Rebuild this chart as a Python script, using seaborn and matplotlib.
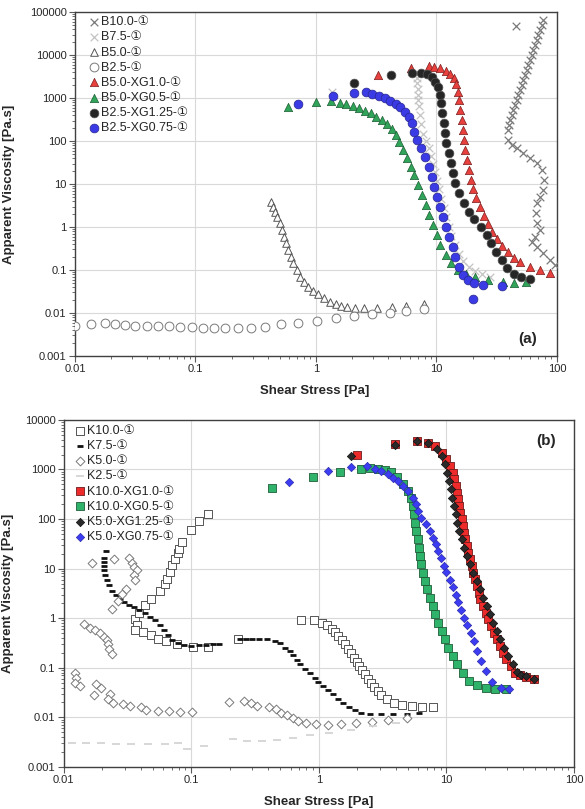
import seaborn as sns
import matplotlib.pyplot as plt
from matplotlib.ticker import FixedLocator, LogLocator, NullFormatter

# ---------------- panel (a): B-series ----------------
b100_x = [45.7, 77.1, 74.6, 72.3, 70.0, 67.8, 65.6, 63.6, 61.7, 59.7, 57.8, 56.1, 54.2, 52.5, 50.9,
          49.3, 47.8, 46.3, 44.8, 43.4, 42.1, 40.7, 40.0, 39.4, 39.4, 42.1, 46.3, 52.5, 59.7, 67.8,
          74.6, 78.0, 77.1, 72.3, 67.8, 67.0, 68.7, 72.3, 65.6, 61.7, 67.8, 77.1, 87.5, 96.2]
b100_y = [47200, 65200, 49900, 38100, 29200, 22400, 17100, 13100, 10000, 7650, 5850, 4480, 3430, 2620, 2000,
          1530, 1170, 898, 687, 526, 403, 308, 236, 180, 105, 80.7, 67.5, 51.6, 39.6, 30.3,
          21.2, 12.4, 7.25, 5.07, 3.55, 2.08, 1.22, 0.85, 0.595, 0.455, 0.348, 0.244, 0.171, 0.131]

b75_x = [1.35, 6.8, 6.85, 6.9, 7.0, 7.05, 7.1, 7.2, 7.3, 7.5, 7.8, 8.2, 8.6, 9.0, 9.4,
         9.8, 10.2, 10.6, 11.0, 11.5, 12.0, 12.6, 13.3, 14.2, 15.3, 16.7, 18.5, 21.0, 24.0, 28.0]
b75_y = [1400, 3800, 2900, 2200, 1600, 1200, 900, 650, 400, 250, 150, 100, 70, 45, 30,
         19, 12, 7.5, 4.5, 2.8, 1.7, 1.0, 0.62, 0.38, 0.24, 0.16, 0.12, 0.095, 0.08, 0.07]

b50_x = [0.421, 0.437, 0.457, 0.478, 0.502, 0.522, 0.543, 0.563, 0.589, 0.616, 0.649, 0.692, 0.737, 0.795,
         0.863, 0.950, 1.05, 1.16, 1.31, 1.47, 1.63, 1.82, 2.11, 2.52, 3.19, 4.25, 5.60, 7.83]
b50_y = [3.88, 2.97, 2.27, 1.74, 1.22, 0.851, 0.595, 0.418, 0.292, 0.204, 0.143, 0.100, 0.070, 0.0535,
         0.0409, 0.0330, 0.0272, 0.0220, 0.0183, 0.0162, 0.0146, 0.0136, 0.0129, 0.0129, 0.0129, 0.0136, 0.0148, 0.0162]

b25_x = [0.0100, 0.0136, 0.0177, 0.0216, 0.0262, 0.0318, 0.0395, 0.0489, 0.0606, 0.0751, 0.0930, 0.115, 0.143,
         0.177, 0.224, 0.288, 0.378, 0.518, 0.715, 1.02, 1.46, 2.09, 2.90, 4.09, 5.60, 7.83]
b25_y = [0.00507, 0.00545, 0.00575, 0.00565, 0.00526, 0.00507, 0.00490, 0.00490, 0.00490, 0.00472, 0.00472,
         0.00456, 0.00440, 0.00440, 0.00440, 0.00456, 0.00472, 0.00545, 0.00585, 0.00640, 0.00750, 0.00850,
         0.00950, 0.0102, 0.0111, 0.0122]

b50xg10_x = [3.30, 6.19, 8.61, 9.58, 10.7, 11.9, 12.9, 13.9, 14.6, 15.1, 15.5, 15.8, 16.2, 16.5, 16.9, 17.4, 17.8,
             18.5, 19.3, 20.3, 21.5, 22.9, 24.6, 26.6, 29.0, 31.8, 35.2, 39.2, 44.0, 49.6, 59.3, 71.9, 87.9]
b50xg10_y = [3430, 4900, 5650, 5350, 4900, 4320, 3610, 2860, 2120, 1400, 898, 526, 308, 180, 105, 61.8, 36.1,
             21.2, 12.4, 7.52, 4.64, 2.87, 1.80, 1.17, 0.779, 0.526, 0.362, 0.258, 0.194, 0.151, 0.120, 0.100, 0.0867]

b50xg05_x = [0.589, 1.01, 1.34, 1.57, 1.79, 2.03, 2.29, 2.55, 2.84, 3.16, 3.52, 3.92, 4.27, 4.59, 4.93, 5.29, 5.69,
             6.11, 6.56, 7.05, 7.56, 8.13, 8.73, 9.37, 10.1, 10.8, 11.9, 13.2, 15.0, 17.6, 21.0, 27.0, 36.0, 44.0, 55.3]
b50xg05_y = [629, 822, 867, 778, 725, 651, 575, 508, 440, 368, 308, 249, 187, 138, 96.4, 61.8, 39.6,
             25.3, 16.2, 9.48, 5.55, 3.25, 1.90, 1.11, 0.652, 0.381, 0.223, 0.143, 0.100, 0.0807, 0.070, 0.0585,
             0.0535, 0.0507, 0.0535]

b25xg125_x = [2.09, 4.21, 6.24, 7.46, 8.30, 9.12, 9.79, 10.4, 10.7, 11.0, 11.2, 11.5, 11.8, 12.1, 12.6, 13.1,
              13.7, 14.4, 15.5, 16.9, 18.6, 20.7, 23.4, 26.1, 28.6, 31.2, 34.7, 38.6, 44.0, 50.7, 59.3]
b25xg125_y = [2190, 3430, 3880, 3880, 3610, 3030, 2400, 1770, 1170, 752, 440, 258, 151, 88.3, 51.6, 30.3,
              17.7, 10.4, 6.07, 3.55, 2.27, 1.54, 1.02, 0.652, 0.417, 0.267, 0.171, 0.109, 0.0807, 0.0675, 0.0607]

b25xg075_x = [0.705, 1.39, 2.06, 2.59, 2.94, 3.32, 3.73, 4.15, 4.59, 5.03, 5.48, 5.89, 6.24, 6.56, 6.94, 7.46,
              8.01, 8.61, 9.12, 9.58, 10.1, 10.7, 11.3, 12.0, 12.8, 13.6, 14.4, 15.5, 16.7, 18.4, 20.6, 24.3, 34.7, 20.3]
b25xg075_y = [713, 1130, 1290, 1350, 1220, 1110, 982, 851, 725, 606, 481, 368, 258, 165, 105, 67.5,
              43.2, 25.3, 14.8, 8.67, 5.07, 2.97, 1.74, 1.02, 0.596, 0.349, 0.204, 0.120, 0.0766, 0.0585, 0.0507,
              0.0448, 0.0433, 0.0212]

# ---------------- panel (b): K-series ----------------
k100_x = [0.036, 0.0377, 0.036, 0.039, 0.0437, 0.0479, 0.0566, 0.062, 0.065, 0.0678, 0.0707, 0.0743, 0.078,
          0.0807, 0.0847, 0.0988, 0.115, 0.134, 0.0419, 0.0487, 0.055, 0.0639, 0.0766, 0.103, 0.136, 0.233,
          0.731, 0.914, 1.05, 1.15, 1.26, 1.33, 1.42, 1.51, 1.60, 1.70, 1.80, 1.88, 1.98, 2.07, 2.19, 2.30,
          2.41, 2.55, 2.70, 2.89, 3.10, 3.40, 3.87, 4.50, 5.33, 6.44, 7.88]
k100_y = [0.95, 0.72, 0.578, 1.30, 1.82, 2.48, 3.53, 4.82, 6.28, 8.53, 11.6, 15.4, 20.3,
          25.2, 34.3, 60.8, 89.5, 128, 0.527, 0.452, 0.387, 0.347, 0.308, 0.262, 0.267, 0.376,
          0.92, 0.92, 0.815, 0.72, 0.617, 0.528, 0.438, 0.364, 0.298, 0.244, 0.196, 0.160, 0.131, 0.109, 0.0891,
          0.0740, 0.0605, 0.0503, 0.0418, 0.0341, 0.0279, 0.0232, 0.0192, 0.0175, 0.0170, 0.0160, 0.0160]

k75_x = [0.0216, 0.0207, 0.0205, 0.0205, 0.0207, 0.0212, 0.0218, 0.0226, 0.0238, 0.0255, 0.0275, 0.0298,
         0.0325, 0.0355, 0.0390, 0.0430, 0.0475, 0.0520, 0.0565, 0.0610, 0.0660, 0.0710, 0.0780, 0.0880,
         0.100, 0.114, 0.130, 0.148, 0.165,
         0.24, 0.27, 0.30, 0.34, 0.39, 0.452, 0.494, 0.541, 0.593, 0.628, 0.676, 0.710, 0.777, 0.850, 0.931,
         0.989, 1.08, 1.18, 1.29, 1.42, 1.55, 1.73, 1.92, 2.16, 2.51, 3.10, 3.83, 4.87, 6.10]
k75_y = [22.4, 16.5, 13.5, 11.3, 9.3, 7.5, 5.9, 4.6, 3.6, 2.9, 2.4, 2.1,
         1.85, 1.65, 1.47, 1.28, 1.08, 0.90, 0.72, 0.57, 0.45, 0.36, 0.31, 0.285,
         0.28, 0.285, 0.29, 0.295, 0.30,
         0.388, 0.388, 0.388, 0.385, 0.375, 0.347, 0.312, 0.255, 0.218, 0.179, 0.144, 0.118, 0.0933, 0.0775,
         0.0634, 0.0518, 0.0430, 0.0357, 0.0292, 0.0239, 0.0199, 0.0165, 0.0139, 0.0125, 0.0119, 0.0115,
         0.0115, 0.0119, 0.0120]

k50_x = [0.0167, 0.0248, 0.0324, 0.0344, 0.0358, 0.0372, 0.0356, 0.0364, 0.0306, 0.0284, 0.0267, 0.0239,
         0.0144, 0.016, 0.0177, 0.0192, 0.0206, 0.0219, 0.0223, 0.0225, 0.0237, 0.0122, 0.0124, 0.0122,
         0.0134, 0.0180, 0.0195, 0.0173, 0.0230, 0.0223, 0.0244, 0.0292, 0.0330, 0.0402, 0.0445, 0.0549,
         0.0670, 0.0813, 0.1005, 0.198, 0.260, 0.296, 0.330, 0.407, 0.460, 0.509, 0.558, 0.622, 0.689,
         0.791, 0.942, 1.18, 1.49, 1.95, 2.59, 3.46, 4.93]
k50_y = [13.2, 15.9, 16.7, 13.2, 11.0, 9.3, 7.3, 6.0, 3.95, 3.03, 2.22, 1.51,
         0.753, 0.646, 0.578, 0.496, 0.425, 0.363, 0.298, 0.244, 0.187, 0.0774, 0.0634, 0.0503,
         0.0430, 0.0465, 0.0399, 0.0279, 0.0292, 0.0232, 0.0199, 0.0184, 0.0170, 0.0160, 0.0141, 0.0137,
         0.0133, 0.0129, 0.0129, 0.0205, 0.0214, 0.0192, 0.0170, 0.0165, 0.0146, 0.0125, 0.0110, 0.0096,
         0.00846, 0.00785, 0.00736, 0.00716, 0.0075, 0.0076, 0.0081, 0.0089, 0.0099]

k25_x = [0.0115, 0.015, 0.0196, 0.0257, 0.0336, 0.0455, 0.0617, 0.078, 0.0924, 0.125, 0.214, 0.271, 0.356,
         0.466, 0.631, 0.853, 1.20, 1.79, 2.68, 4.02]
k25_y = [0.00306, 0.00301, 0.00297, 0.00293, 0.00293, 0.00293, 0.0029, 0.00306, 0.00235, 0.00262, 0.00368,
         0.0033, 0.0033, 0.00357, 0.00386, 0.00436, 0.00486, 0.00568, 0.00662, 0.00773]

k100xg10_x = [1.98, 3.95, 5.90, 7.20, 8.13, 9.17, 10.0, 10.6, 11.2, 11.5, 11.9, 12.2, 12.4, 12.6, 12.9, 13.2,
              13.4, 13.7, 14.1, 14.4, 14.8, 15.3, 15.8, 16.2, 16.7, 17.3, 17.9, 18.5, 19.5, 20.4, 21.4, 22.5,
              23.6, 24.8, 26.3, 27.9, 29.6, 31.9, 34.4, 38.0, 42.5, 48.6]
k100xg10_y = [1950, 3210, 3740, 3470, 2970, 2180, 1600, 1170, 861, 631, 463, 340, 250, 183, 135, 98.6,
              72.3, 53.2, 39.0, 28.6, 21.0, 15.4, 11.3, 8.30, 6.08, 4.46, 3.28, 2.40, 1.76, 1.30, 0.950, 0.697,
              0.513, 0.376, 0.275, 0.202, 0.148, 0.109, 0.080, 0.070, 0.0650, 0.0605]

k100xg05_x = [0.43, 0.90, 1.46, 2.16, 2.5, 2.9, 3.3, 3.7, 4.1, 4.6, 5.0, 5.3, 5.5, 5.6, 5.7, 5.83, 5.94,
              6.05, 6.19, 6.38, 6.58, 6.82, 7.07, 7.43, 7.80, 8.17, 8.63, 9.17, 9.73, 10.3, 11.2, 12.2, 13.4,
              15.1, 17.3, 20.4, 24.0, 29.6]
k100xg05_y = [420, 690, 880, 1030, 1060, 1040, 980, 880, 720, 520, 370, 270, 183, 124, 84.6, 57.3, 39.0,
              26.5, 17.9, 12.2, 8.30, 5.62, 3.83, 2.60, 1.76, 1.20, 0.815, 0.552, 0.376, 0.255, 0.173, 0.118,
              0.080, 0.054, 0.044, 0.040, 0.038, 0.037]

k50xg125_x = [1.80, 3.95, 5.90, 7.20, 8.38, 9.17, 9.73, 10.1, 10.5, 10.8, 11.1, 11.5, 11.8, 12.2, 12.6, 13.2,
              13.7, 14.4, 15.3, 16.2, 17.3, 18.3, 19.5, 20.7, 21.9, 23.3, 24.8, 26.3, 28.2, 30.5, 33.1, 35.9,
              38.4, 42.5, 48.6]
k50xg125_y = [1860, 3150, 3700, 3470, 2630, 1860, 1270, 861, 584, 397, 270, 183, 124, 84.6, 57.3, 39.0,
              26.5, 17.9, 12.2, 8.30, 5.62, 3.83, 2.60, 1.76, 1.20, 0.815, 0.552, 0.376, 0.255, 0.173, 0.118,
              0.0822, 0.0728, 0.0675, 0.0605]

k50xg075_x = [0.58, 1.18, 1.80, 2.37, 2.75, 3.10, 3.50, 3.83, 4.19, 4.59, 5.02, 5.43, 5.77, 6.01, 6.38,
              6.90, 7.43, 7.89, 8.28, 8.63, 9.0, 9.5, 10.0, 10.6, 11.2, 11.8, 12.4, 13.1, 13.8, 14.6, 15.5,
              16.4, 17.5, 18.8, 20.5, 23.0, 27.0, 31.0]
k50xg075_y = [560, 920, 1110, 1170, 1040, 929, 796, 684, 584, 463, 367, 270, 198, 145, 107,
              78, 57, 42, 31, 22.6, 16.7, 11.5, 8.5, 6.0, 4.2, 3.0, 2.1, 1.45, 1.03, 0.72, 0.50,
              0.34, 0.22, 0.14, 0.085, 0.052, 0.040, 0.038]

y_ticks_a = [0.001, 0.01, 0.1, 1, 10, 100, 1000, 10000, 100000]
y_labels_a = ['0.001', '0.01', '0.1', '1', '10', '100', '1000', '10000', '100000']
y_ticks_b = [0.001, 0.01, 0.1, 1, 10, 100, 1000, 10000]
y_labels_b = ['0.001', '0.01', '0.1', '1', '10', '100', '1000', '10000']
x_ticks = [0.01, 0.1, 1, 10, 100]
x_labels = ['0.01', '0.1', '1', '10', '100']

sns.set_theme(style='white')
plt.rcParams['font.family'] = ['Liberation Sans', 'DejaVu Sans', 'Noto Sans CJK JP']

RED, RED_E = '#e8403c', '#7a2020'
GREEN, GREEN_E = '#30a55a', '#1d5e34'
BLUE, BLUE_E = '#3b3be6', '#26268f'
DARK, DARK_E = '#262626', '#555555'


def draw(ax, xs, ys, label, marker, size, color, edge=None, lw=0.6, z=3):
    kws = dict(marker=marker, s=size, linewidth=lw, zorder=z, label=label, color=color)
    if edge is not None:
        kws['edgecolor'] = edge
    sns.scatterplot(x=xs, y=ys, ax=ax, legend=False, **kws)


def style_axes(ax, yt, yl):
    ax.set_xscale('log')
    ax.set_yscale('log')
    ax.set_xlim(0.01, 100)
    ax.set_ylim(yt[0], yt[-1])
    ax.xaxis.set_major_locator(FixedLocator(x_ticks))
    ax.set_xticklabels(x_labels)
    ax.yaxis.set_major_locator(FixedLocator(yt))
    ax.set_yticklabels(yl)
    for a in (ax.xaxis, ax.yaxis):
        a.set_minor_locator(LogLocator(base=10, subs=range(2, 10), numticks=20))
        a.set_minor_formatter(NullFormatter())
    ax.tick_params(which='major', direction='out', length=4, width=0.8, color='#595959',
                   labelsize=8, pad=2, bottom=True, left=True)
    ax.tick_params(which='minor', direction='out', length=2.5, width=0.6, color='#595959',
                   bottom=True, left=True)
    ax.grid(True, which='major', color='#d9d9d9', lw=0.8)
    ax.set_axisbelow(True)
    for sp in ax.spines.values():
        sp.set_color('#404040')
        sp.set_linewidth(1.0)
    ax.set_xlabel('Shear Stress [Pa]', fontsize=9.5, fontweight='bold')
    ax.set_ylabel('Apparent Viscosity [Pa.s]', fontsize=9.5, fontweight='bold')


fig = plt.figure(figsize=(5.85, 8.09), dpi=100)
ax1 = fig.add_axes([0.128, 0.560, 0.824, 0.425])
ax2 = fig.add_axes([0.109, 0.052, 0.872, 0.429])

# panel (a)
draw(ax1, b100_x, b100_y, 'B10.0-①', 'x', 30, '#7a7a7a', lw=0.9)
draw(ax1, b75_x, b75_y, 'B7.5-①', 'x', 30, '#c4c4c4', lw=0.9)
draw(ax1, b50_x, b50_y, 'B5.0-①', '^', 30, 'white', '#555555', lw=0.7)
draw(ax1, b25_x, b25_y, 'B2.5-①', 'o', 40, 'white', '#7a7a7a', lw=0.7)
draw(ax1, b50xg10_x, b50xg10_y, 'B5.0-XG1.0-①', '^', 36, RED, RED_E, lw=0.5)
draw(ax1, b50xg05_x, b50xg05_y, 'B5.0-XG0.5-①', '^', 36, GREEN, GREEN_E, lw=0.5)
draw(ax1, b25xg125_x, b25xg125_y, 'B2.5-XG1.25-①', 'o', 40, DARK, DARK_E, lw=0.5)
draw(ax1, b25xg075_x, b25xg075_y, 'B2.5-XG0.75-①', 'o', 40, BLUE, BLUE_E, lw=0.5)
style_axes(ax1, y_ticks_a, y_labels_a)
ax1.xaxis.set_label_coords(0.497, -0.085)
ax1.yaxis.set_label_coords(-0.125, 0.5)
ax1.text(0.939, 0.05, '(a)', transform=ax1.transAxes, ha='center', va='center',
         fontsize=11, fontweight='bold')
ax1.legend(loc='upper left', bbox_to_anchor=(0.03, 0.988), frameon=False, fontsize=9,
           handlelength=0.8, handletextpad=0.15, labelspacing=0.25, borderpad=0, borderaxespad=0,
           scatterpoints=1)

# panel (b)
draw(ax2, k100_x, k100_y, 'K10.0-①', 's', 36, 'white', '#555555', lw=0.7)
draw(ax2, k75_x, k75_y, 'K7.5-①', '_', 22, '#111111', lw=2.0)
draw(ax2, k50_x, k50_y, 'K5.0-①', 'D', 20, 'white', '#7a7a7a', lw=0.7)
draw(ax2, k25_x, k25_y, 'K2.5-①', '_', 40, '#d4d4d4', lw=1.3)
draw(ax2, k100xg10_x, k100xg10_y, 'K10.0-XG1.0-①', 's', 30, '#ee2b2b', '#6e1c1c', lw=0.6)
draw(ax2, k100xg05_x, k100xg05_y, 'K10.0-XG0.5-①', 's', 30, '#2fb36a', '#1e5e38', lw=0.6)
draw(ax2, k50xg125_x, k50xg125_y, 'K5.0-XG1.25-①', 'D', 18, '#2a2a2a', '#111111', lw=0.5)
draw(ax2, k50xg075_x, k50xg075_y, 'K5.0-XG0.75-①', 'D', 18, '#3c3cf2', '#2b2bb0', lw=0.5)
style_axes(ax2, y_ticks_b, y_labels_b)
ax2.xaxis.set_label_coords(0.5, -0.085)
ax2.yaxis.set_label_coords(-0.098, 0.5)
ax2.text(0.946, 0.938, '(b)', transform=ax2.transAxes, ha='center', va='center',
         fontsize=11, fontweight='bold')
ax2.legend(loc='upper left', bbox_to_anchor=(0.022, 0.985), frameon=False, fontsize=9,
           handlelength=0.8, handletextpad=0.15, labelspacing=0.25, borderpad=0, borderaxespad=0,
           scatterpoints=1)

fig.savefig('out.png', dpi=100)
